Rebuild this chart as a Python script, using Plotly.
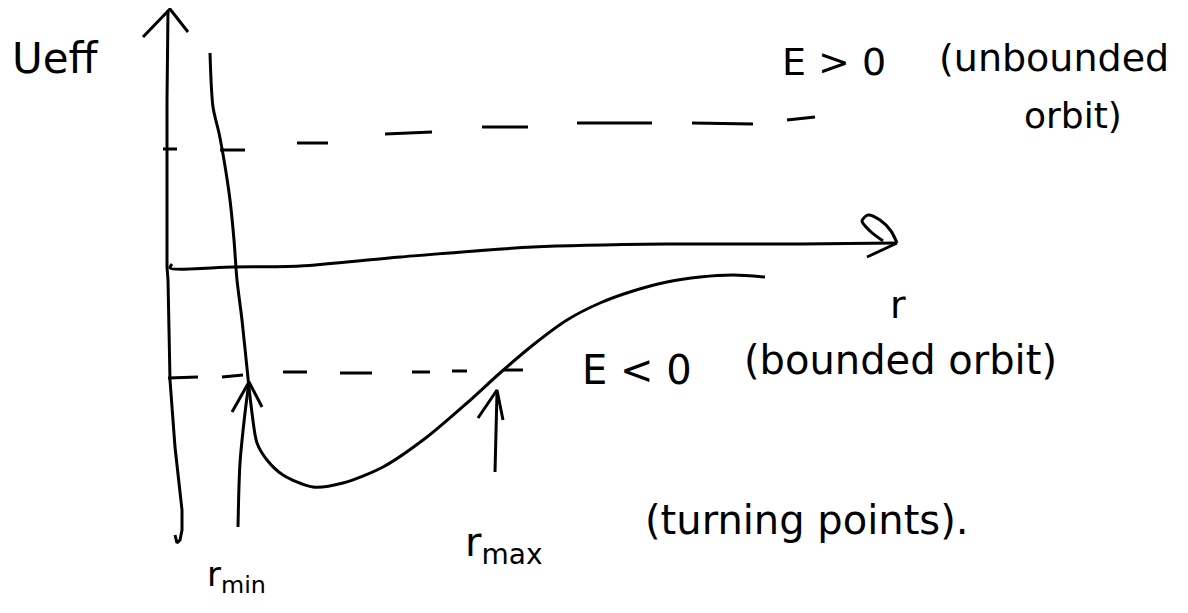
import plotly.graph_objects as go

# Cores / estilo do traço
tinta = 'black'
fonte = 'DejaVu Sans'

# Eixo vertical (U_eff) com a seta no topo
eixo_v_x = [168, 167, 167, 168, 170, 175, 182, 182, 180, 177, 175]
eixo_v_y = [10, 100, 267, 280, 380, 447, 510, 530, 540, 543, 535]
seta_v_x = [143, 170, 188]
seta_v_y = [37, 9, 32]

# Eixo horizontal (r) com a seta na direita
eixo_h_x = [172, 170, 233, 300, 400, 533, 667, 800, 897]
eixo_h_y = [264, 268, 267, 266, 257, 247, 244, 244, 243]
seta_h_laco_x = [883, 870, 862, 868, 880, 891, 897]
seta_h_laco_y = [241, 231, 221, 215, 220, 231, 243]
seta_h_asa_x = [867, 897]
seta_h_asa_y = [257, 243]

# Curva do potencial efetivo
curva_x = [210, 213, 219, 224, 230, 234, 237, 242, 248, 252, 257, 267, 283, 313,
           343, 383, 427, 467, 500, 533, 567, 600, 633, 667, 700, 733, 765]
curva_y = [53, 107, 133, 160, 200, 240, 280, 320, 378, 413, 443, 460, 475, 487,
           483, 467, 437, 403, 373, 345, 320, 303, 291, 282, 277, 275, 277]

# Tracejado E > 0 (início e fim de cada traço)
e_pos_x0 = [163, 220, 297, 385, 482, 577, 692, 787]
e_pos_x1 = [177, 245, 328, 432, 528, 652, 753, 815]
e_pos_y0 = [149, 150, 143, 134, 127, 123, 123, 120]
e_pos_y1 = [149, 150, 143, 132, 127, 123, 124, 117]

# Tracejado E < 0
e_neg_x0 = [168, 222, 283, 340, 412, 452, 503]
e_neg_x1 = [198, 243, 307, 372, 430, 467, 523]
e_neg_y0 = [378, 377, 372, 373, 372, 371, 370]
e_neg_y1 = [377, 375, 372, 373, 372, 371, 370]

# Setas dos pontos de retorno
rmin_haste_x = [238, 240, 245, 249]
rmin_haste_y = [527, 463, 413, 382]
rmin_ponta_x = [232, 249, 262]
rmin_ponta_y = [412, 382, 407]
rmax_haste_x = [495, 496, 497]
rmax_haste_y = [472, 430, 392]
rmax_ponta_x = [478, 497, 503]
rmax_ponta_y = [418, 390, 420]

# Textos (texto, x esquerdo, y central, tamanho)
textos = ['Ueff', 'E > 0', '(unbounded', 'orbit)', 'r', 'E < 0', '(bounded orbit)',
          'r<sub>max</sub>', '(turning points).', 'r<sub>min</sub>']
textos_x = [10, 780, 937, 1022, 888, 580, 742, 463, 643, 205]
textos_y = [58, 62, 58, 115, 305, 370, 360, 545, 520, 576]
textos_tam = [42, 38, 38, 36, 38, 40, 40, 40, 40, 34]


def tracos(x0, x1, y0, y1):
    # junta os segmentos num só traço separado por None
    xs, ys = [], []
    for a, b, c, d in zip(x0, x1, y0, y1):
        xs += [a, b, None]
        ys += [c, d, None]
    return xs, ys


fig = go.Figure()

linhas = [
    (eixo_v_x, eixo_v_y, 'linear'),
    (seta_v_x, seta_v_y, 'linear'),
    (eixo_h_x, eixo_h_y, 'spline'),
    (seta_h_laco_x, seta_h_laco_y, 'spline'),
    (seta_h_asa_x, seta_h_asa_y, 'linear'),
    (curva_x, curva_y, 'spline'),
    (rmin_haste_x, rmin_haste_y, 'spline'),
    (rmin_ponta_x, rmin_ponta_y, 'linear'),
    (rmax_haste_x, rmax_haste_y, 'linear'),
    (rmax_ponta_x, rmax_ponta_y, 'linear'),
]
for xs, ys, forma in linhas:
    fig.add_trace(go.Scatter(
        x=xs, y=ys, mode='lines',
        line=dict(color=tinta, width=3, shape=forma, smoothing=0.8),
        hoverinfo='skip'
    ))

for x0, x1, y0, y1 in [(e_pos_x0, e_pos_x1, e_pos_y0, e_pos_y1),
                       (e_neg_x0, e_neg_x1, e_neg_y0, e_neg_y1)]:
    xs, ys = tracos(x0, x1, y0, y1)
    fig.add_trace(go.Scatter(
        x=xs, y=ys, mode='lines',
        line=dict(color=tinta, width=3),
        hoverinfo='skip'
    ))

for t, x, y, s in zip(textos, textos_x, textos_y, textos_tam):
    fig.add_annotation(x=x, y=y, text=t, showarrow=False,
                       xanchor='left', yanchor='middle',
                       font=dict(family=fonte, size=s, color=tinta))

# A página tem 8 px de margem no corpo: o gráfico ocupa 8..1180 x 8..605
fig.update_layout(
    width=1172, height=597,
    margin=dict(l=0, r=0, t=0, b=0),
    plot_bgcolor='white',
    paper_bgcolor='white',
    showlegend=False,
    xaxis=dict(range=[8, 1180], visible=False, fixedrange=True),
    yaxis=dict(range=[605, 8], visible=False, fixedrange=True),
)

fig.write_html("out.html")
